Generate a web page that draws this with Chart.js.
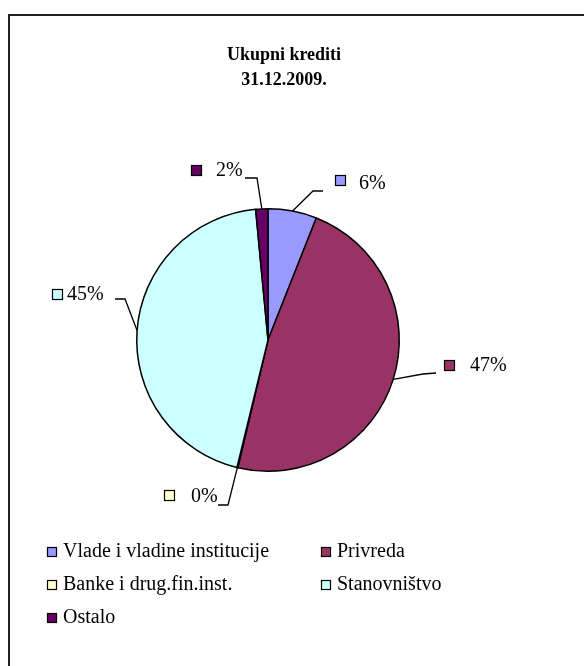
<!DOCTYPE html>
<html>
<head>
<meta charset="utf-8">
<script src="https://cdn.jsdelivr.net/npm/chart.js@4.4.1/dist/chart.umd.min.js"></script>
<style>
  html, body { margin: 0; padding: 0; background: #fff; }
  #wrap { position: relative; width: 584px; height: 666px; }
</style>
</head>
<body>
<div id="wrap"><canvas id="c" width="584" height="666"></canvas></div>
<script>
// ---- data ----
const titleLines = ["Ukupni krediti", "31.12.2009."];
const categories = ["Vlade i vladine institucije", "Privreda", "Banke i drug.fin.inst.", "Stanovništvo", "Ostalo"];
const values = [6.0, 47.7, 0.1, 44.7, 1.5];
const percentLabels = ["6%", "47%", "0%", "45%", "2%"];
const colors = ["#9999FF", "#993366", "#FFFFCC", "#CCFFFF", "#660066"];

// ---- layout (styles / positions) ----
const SERIF = '"Liberation Serif", "Times New Roman", serif';
const labelLayout = [
  { bx: 335, by: 175, tx: 359, ty: 184, leader: [[323, 191], [313, 191]] },
  { bx: 444, by: 360, tx: 470, ty: 366, leader: [[436, 373], [423, 374]] },
  { bx: 164, by: 490, tx: 191, ty: 497, leader: [[218, 505], [228, 505]] },
  { bx: 52,  by: 289, tx: 67,  ty: 295, leader: [[115, 299], [125, 299]] },
  { bx: 191, by: 165, tx: 216, ty: 171, leader: [[245, 178], [257, 178]] }
];
const legendLayout = [
  { x: 47, y: 552 }, { x: 321, y: 552 },
  { x: 47, y: 585 }, { x: 321, y: 585 },
  { x: 47, y: 618 }
];

const decorPlugin = {
  id: 'decor',
  beforeDraw(chart) {
    const ctx = chart.ctx;
    ctx.save();
    ctx.fillStyle = '#fff';
    ctx.fillRect(0, 0, chart.width, chart.height);
    ctx.restore();
  },
  afterDraw(chart) {
    const ctx = chart.ctx;
    ctx.save();
    // outer frame
    ctx.strokeStyle = '#222';
    ctx.lineWidth = 2;
    ctx.beginPath();
    ctx.moveTo(9, 700);
    ctx.lineTo(9, 15);
    ctx.lineTo(700, 15);
    ctx.stroke();

    // title
    ctx.fillStyle = '#000';
    ctx.textAlign = 'center';
    ctx.textBaseline = 'middle';
    ctx.font = 'bold 18px ' + SERIF;
    ctx.fillText(titleLines[0], 284, 55);
    ctx.fillText(titleLines[1], 284, 80);

    // data labels with leader lines
    const meta = chart.getDatasetMeta(0);
    ctx.font = '20px ' + SERIF;
    ctx.textAlign = 'left';
    meta.data.forEach((arc, i) => {
      const L = labelLayout[i];
      const p = arc.getProps(['x', 'y', 'startAngle', 'endAngle', 'outerRadius'], true);
      const mid = (p.startAngle + p.endAngle) / 2;
      const ex = p.x + Math.cos(mid) * p.outerRadius;
      const ey = p.y + Math.sin(mid) * p.outerRadius;
      ctx.strokeStyle = '#000';
      ctx.lineWidth = 1.3;
      ctx.beginPath();
      ctx.moveTo(L.leader[0][0], L.leader[0][1]);
      for (let k = 1; k < L.leader.length; k++) ctx.lineTo(L.leader[k][0], L.leader[k][1]);
      ctx.lineTo(ex, ey);
      ctx.stroke();
      ctx.fillStyle = colors[i];
      ctx.fillRect(L.bx, L.by, 10, 10);
      ctx.lineWidth = 1.2;
      ctx.strokeRect(L.bx + 0.5, L.by + 0.5, 10, 10);
      ctx.fillStyle = '#000';
      ctx.fillText(percentLabels[i], L.tx, L.ty);
    });

    // legend
    ctx.font = '20px ' + SERIF;
    categories.forEach((name, i) => {
      const g = legendLayout[i];
      ctx.fillStyle = colors[i];
      ctx.fillRect(g.x, g.y - 5, 9, 9);
      ctx.strokeStyle = '#000';
      ctx.lineWidth = 1.2;
      ctx.strokeRect(g.x + 0.5, g.y - 4.5, 9, 9);
      ctx.fillStyle = '#000';
      ctx.fillText(name, g.x + 16, g.y);
    });
    ctx.restore();
  }
};

new Chart(document.getElementById('c'), {
  type: 'pie',
  data: {
    labels: categories,
    datasets: [{
      data: values,
      backgroundColor: colors,
      borderColor: '#000',
      borderWidth: 1.5,
      hoverOffset: 0
    }]
  },
  options: {
    responsive: false,
    animation: false,
    devicePixelRatio: 1,
    rotation: 0,
    layout: { padding: { left: 136, right: 184, top: 208, bottom: 194 } },
    plugins: {
      legend: { display: false },
      title: { display: false },
      tooltip: { enabled: false }
    }
  },
  plugins: [decorPlugin]
});
</script>
</body>
</html>
